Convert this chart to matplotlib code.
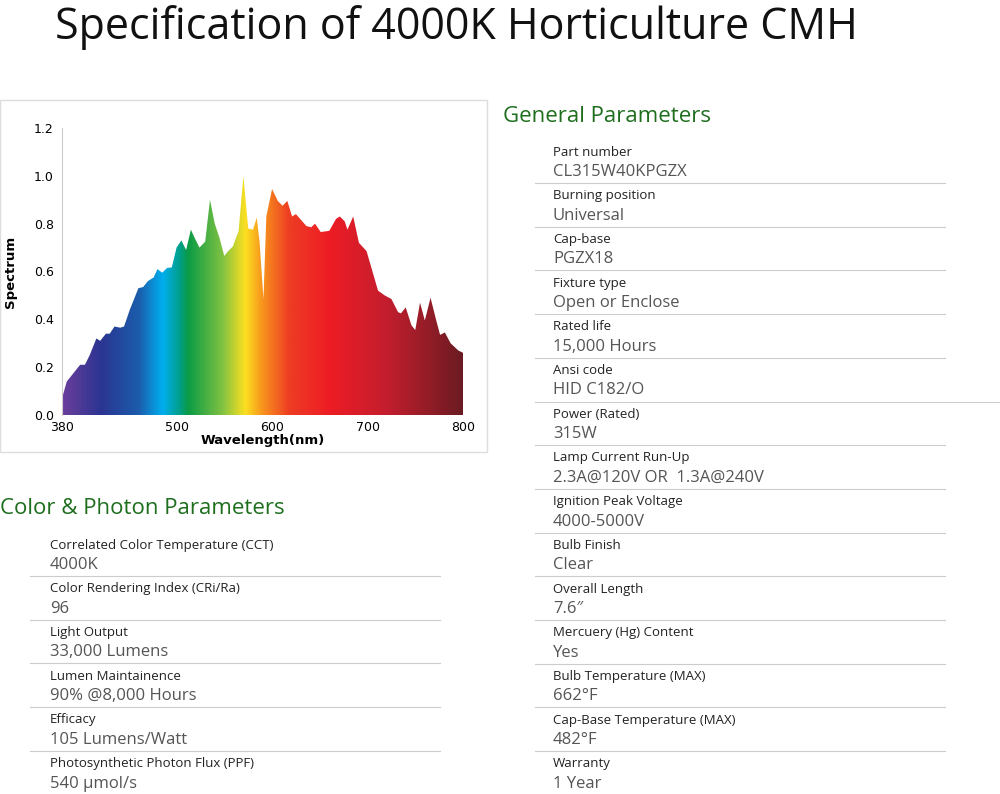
import matplotlib
matplotlib.use("Agg")
import matplotlib.pyplot as plt
import numpy as np
from matplotlib.colors import LinearSegmentedColormap
from matplotlib.patches import Polygon, Rectangle
from matplotlib.lines import Line2D

wavelength = [380,385,399,404,409,416,420,426,430,435,441,445,451,460,465,470,476,480,485,490,495,500,505,510,515,519,524,530,535,540,545,550,554,559,565,570,575,580,584,587,591,594,600,606,611,616,621,625,636,641,645,651,660,667,671,676,679,685,691,699,711,718,725,732,735,740,746,750,755,760,766,772,776,781,787,795,800]
spectrum = [0.07,0.14,0.21,0.21,0.25,0.32,0.31,0.34,0.34,0.37,0.365,0.37,0.44,0.53,0.535,0.56,0.575,0.61,0.595,0.615,0.617,0.70,0.73,0.69,0.775,0.74,0.70,0.725,0.90,0.80,0.74,0.665,0.685,0.705,0.77,1.0,0.78,0.775,0.825,0.72,0.485,0.83,0.945,0.895,0.875,0.895,0.83,0.84,0.79,0.785,0.80,0.765,0.77,0.82,0.83,0.81,0.775,0.83,0.72,0.685,0.52,0.50,0.485,0.43,0.425,0.45,0.375,0.355,0.47,0.395,0.49,0.395,0.335,0.345,0.30,0.27,0.26]

general_labels = ["Part number","Burning position","Cap-base","Fixture type","Rated life","Ansi code","Power (Rated)","Lamp Current Run-Up","Ignition Peak Voltage","Bulb Finish","Overall Length","Mercuery (Hg) Content","Bulb Temperature (MAX)","Cap-Base Temperature (MAX)","Warranty"]
general_values = ["CL315W40KPGZX","Universal","PGZX18","Open or Enclose","15,000 Hours","HID C182/O","315W","2.3A@120V OR  1.3A@240V","4000-5000V","Clear","7.6\u2033","Yes","662\u00b0F","482\u00b0F","1 Year"]
color_labels = ["Correlated Color Temperature (CCT)","Color Rendering Index (CRi/Ra)","Light Output","Lumen Maintainence","Efficacy","Photosynthetic Photon Flux (PPF)"]
color_values = ["4000K","96","33,000 Lumens","90% @8,000 Hours","105 Lumens/Watt","540 \u00b5mol/s"]

W, H = 1000, 794
fig = plt.figure(figsize=(W/100, H/100), dpi=100)
fig.patch.set_facecolor("white")
FONT = ["Open Sans", "DejaVu Sans"]

def fx(x): return x / W
def fy(y): return 1 - y / H

fig.patches.append(Rectangle((fx(0), fy(452)), fx(487), 352/H, transform=fig.transFigure,
                             fill=False, edgecolor="#dddddd", lw=1))

ax = fig.add_axes([fx(62), fy(415), fx(463-62), (415-128)/H])
ax.set_xlim(380, 800)
ax.set_ylim(0, 1.2)
stops = [(380,"#6b3d9c"),(420,"#2b3591"),(460,"#1b5cab"),(485,"#00aeef"),(503,"#00a08a"),
         (512,"#0b9b45"),(548,"#80c242"),(572,"#fde021"),(590,"#f7941d"),(618,"#ee3d24"),
         (660,"#ed1c24"),(720,"#c41e2e"),(800,"#6b1b22")]
cmap = LinearSegmentedColormap.from_list("spec", [((w-380)/420, c) for w, c in stops])
grad = np.linspace(0, 1, 512).reshape(1, -1)
im = ax.imshow(grad, extent=[380, 800, 0, 1.2], aspect="auto", cmap=cmap, origin="lower")
verts = [(380, 0)] + list(zip(wavelength, spectrum)) + [(800, 0)]
poly = Polygon(verts, closed=True, transform=ax.transData, facecolor="none", edgecolor="none")
ax.add_patch(poly)
im.set_clip_path(poly)
for s in ["top", "right", "bottom"]:
    ax.spines[s].set_visible(False)
ax.spines["left"].set_color("#cccccc")
ax.set_xticks([380, 500, 600, 700, 800])
ax.set_yticks([0, 0.2, 0.4, 0.6, 0.8, 1.0, 1.2])
ax.set_yticklabels(["0.0","0.2","0.4","0.6","0.8","1.0","1.2"])
ax.tick_params(axis="x", length=0, labelsize=9, pad=4)
ax.tick_params(axis="y", length=0, labelsize=9, pad=6)
ax.set_xlabel("Wavelength(nm)", fontsize=9.5, fontweight="bold", labelpad=0)
ax.set_ylabel("Spectrum", fontsize=9.5, fontweight="bold", labelpad=12)

fig.text(fx(55), fy(28), "Specification of 4000K Horticulture CMH", fontsize=31, family=FONT,
         va="center", ha="left", color="#111111")

green = "#1e6e1e"
fig.text(fx(503), fy(117), "General Parameters", fontsize=16, family=FONT, color=green, va="center")
fig.text(fx(0), fy(509), "Color & Photon Parameters", fontsize=16, family=FONT, color=green, va="center")

def table(x0, y0, labels, values, line_x0, line_x1, step=43.7, long_idx=None):
    for i, (lab, val) in enumerate(zip(labels, values)):
        y = y0 + i * step
        fig.text(fx(x0), fy(y), lab, fontsize=9.5, family=FONT, color="#222222", va="center")
        fig.text(fx(x0), fy(y + 20), val, fontsize=12, family=FONT, color="#555555", va="center")
        xe = 1000 if i == long_idx else line_x1
        fig.lines.append(Line2D([fx(line_x0), fx(xe)], [fy(y + 31), fy(y + 31)],
                                transform=fig.transFigure, color="#cccccc", lw=0.8))

table(553, 152, general_labels, general_values, 535, 945, long_idx=5)
table(50, 545, color_labels, color_values, 30, 440)

fig.savefig("out.png", dpi=100, facecolor="white")
